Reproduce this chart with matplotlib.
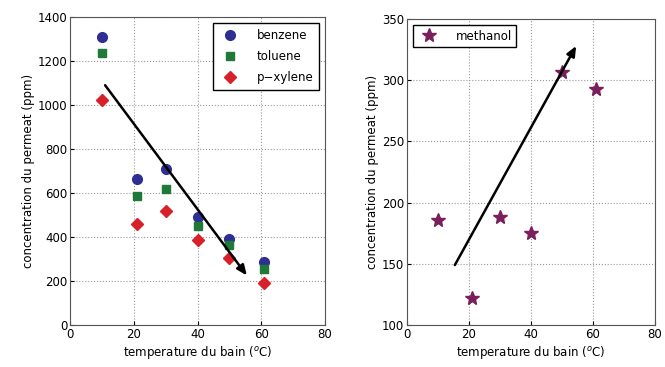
import matplotlib
matplotlib.use("Agg")
import matplotlib.pyplot as plt
import numpy as np

# temperature du bain (C)
temp = [10, 21, 30, 40, 50, 61]
benzene = [1310, 665, 710, 490, 390, 285]
toluene = [1235, 585, 620, 450, 365, 255]
p_xylene = [1025, 460, 520, 385, 305, 190]
methanol = [186, 122, 188, 175, 307, 293]

# tendance (fleches)
trend_left = [(10.5, 1100), (56, 215)]
trend_right = [(15, 147), (55, 330)]

plt.rcParams['font.family'] = ['DejaVu Sans']
plt.rcParams['font.size'] = 8.5

fig = plt.figure(figsize=(6.65, 3.67), dpi=100)
ax1 = fig.add_axes([70/665, 42/367, 255/665, 308/367])
ax2 = fig.add_axes([407/665, 42/367, 248/665, 306/367])

ax1.plot(temp, benzene, 'o', color='#2e2e94', ms=7, label='benzene')
ax1.plot(temp, toluene, 's', color='#1f7a3a', ms=6, label='toluene')
ax1.plot(temp, p_xylene, 'D', color='#d8202a', ms=6, label='p\u2212xylene')
ax1.annotate('', xy=trend_left[1], xytext=trend_left[0],
             arrowprops=dict(arrowstyle='-|>,head_length=0.7,head_width=0.3',
                             color='black', lw=1.8))
ax1.set_xlim(0, 80)
ax1.set_ylim(0, 1400)
ax1.set_xticks(range(0, 81, 20))
ax1.set_yticks(range(0, 1401, 200))
ax1.set_xlabel('temperature du bain ($^o$C)', labelpad=2)
ax1.set_ylabel('concentration du permeat (ppm)', labelpad=2)
ax1.legend(loc='upper right', fancybox=False, edgecolor='black',
           framealpha=1, handletextpad=1.2, borderpad=0.5, labelspacing=0.7)

ax2.plot(temp, methanol, '*', color='#7a1f5c', ms=10, label='methanol')
ax2.annotate('', xy=trend_right[1], xytext=trend_right[0],
             arrowprops=dict(arrowstyle='-|>,head_length=0.7,head_width=0.3',
                             color='black', lw=1.8))
ax2.set_xlim(0, 80)
ax2.set_ylim(100, 350)
ax2.set_xticks(range(0, 81, 20))
ax2.set_yticks(range(100, 351, 50))
ax2.set_xlabel('temperature du bain ($^o$C)', labelpad=2)
ax2.set_ylabel('concentration du permeat (ppm)', labelpad=2)
ax2.legend(loc='upper left', fancybox=False, edgecolor='black',
           framealpha=1, handletextpad=1.2, borderpad=0.4)

for ax in (ax1, ax2):
    ax.grid(True, linestyle=':', color='#999999', lw=0.8)
    ax.tick_params(direction='in', length=3, pad=2)
    for s in ax.spines.values():
        s.set_color('#555555')

fig.savefig('out.png', dpi=100)
